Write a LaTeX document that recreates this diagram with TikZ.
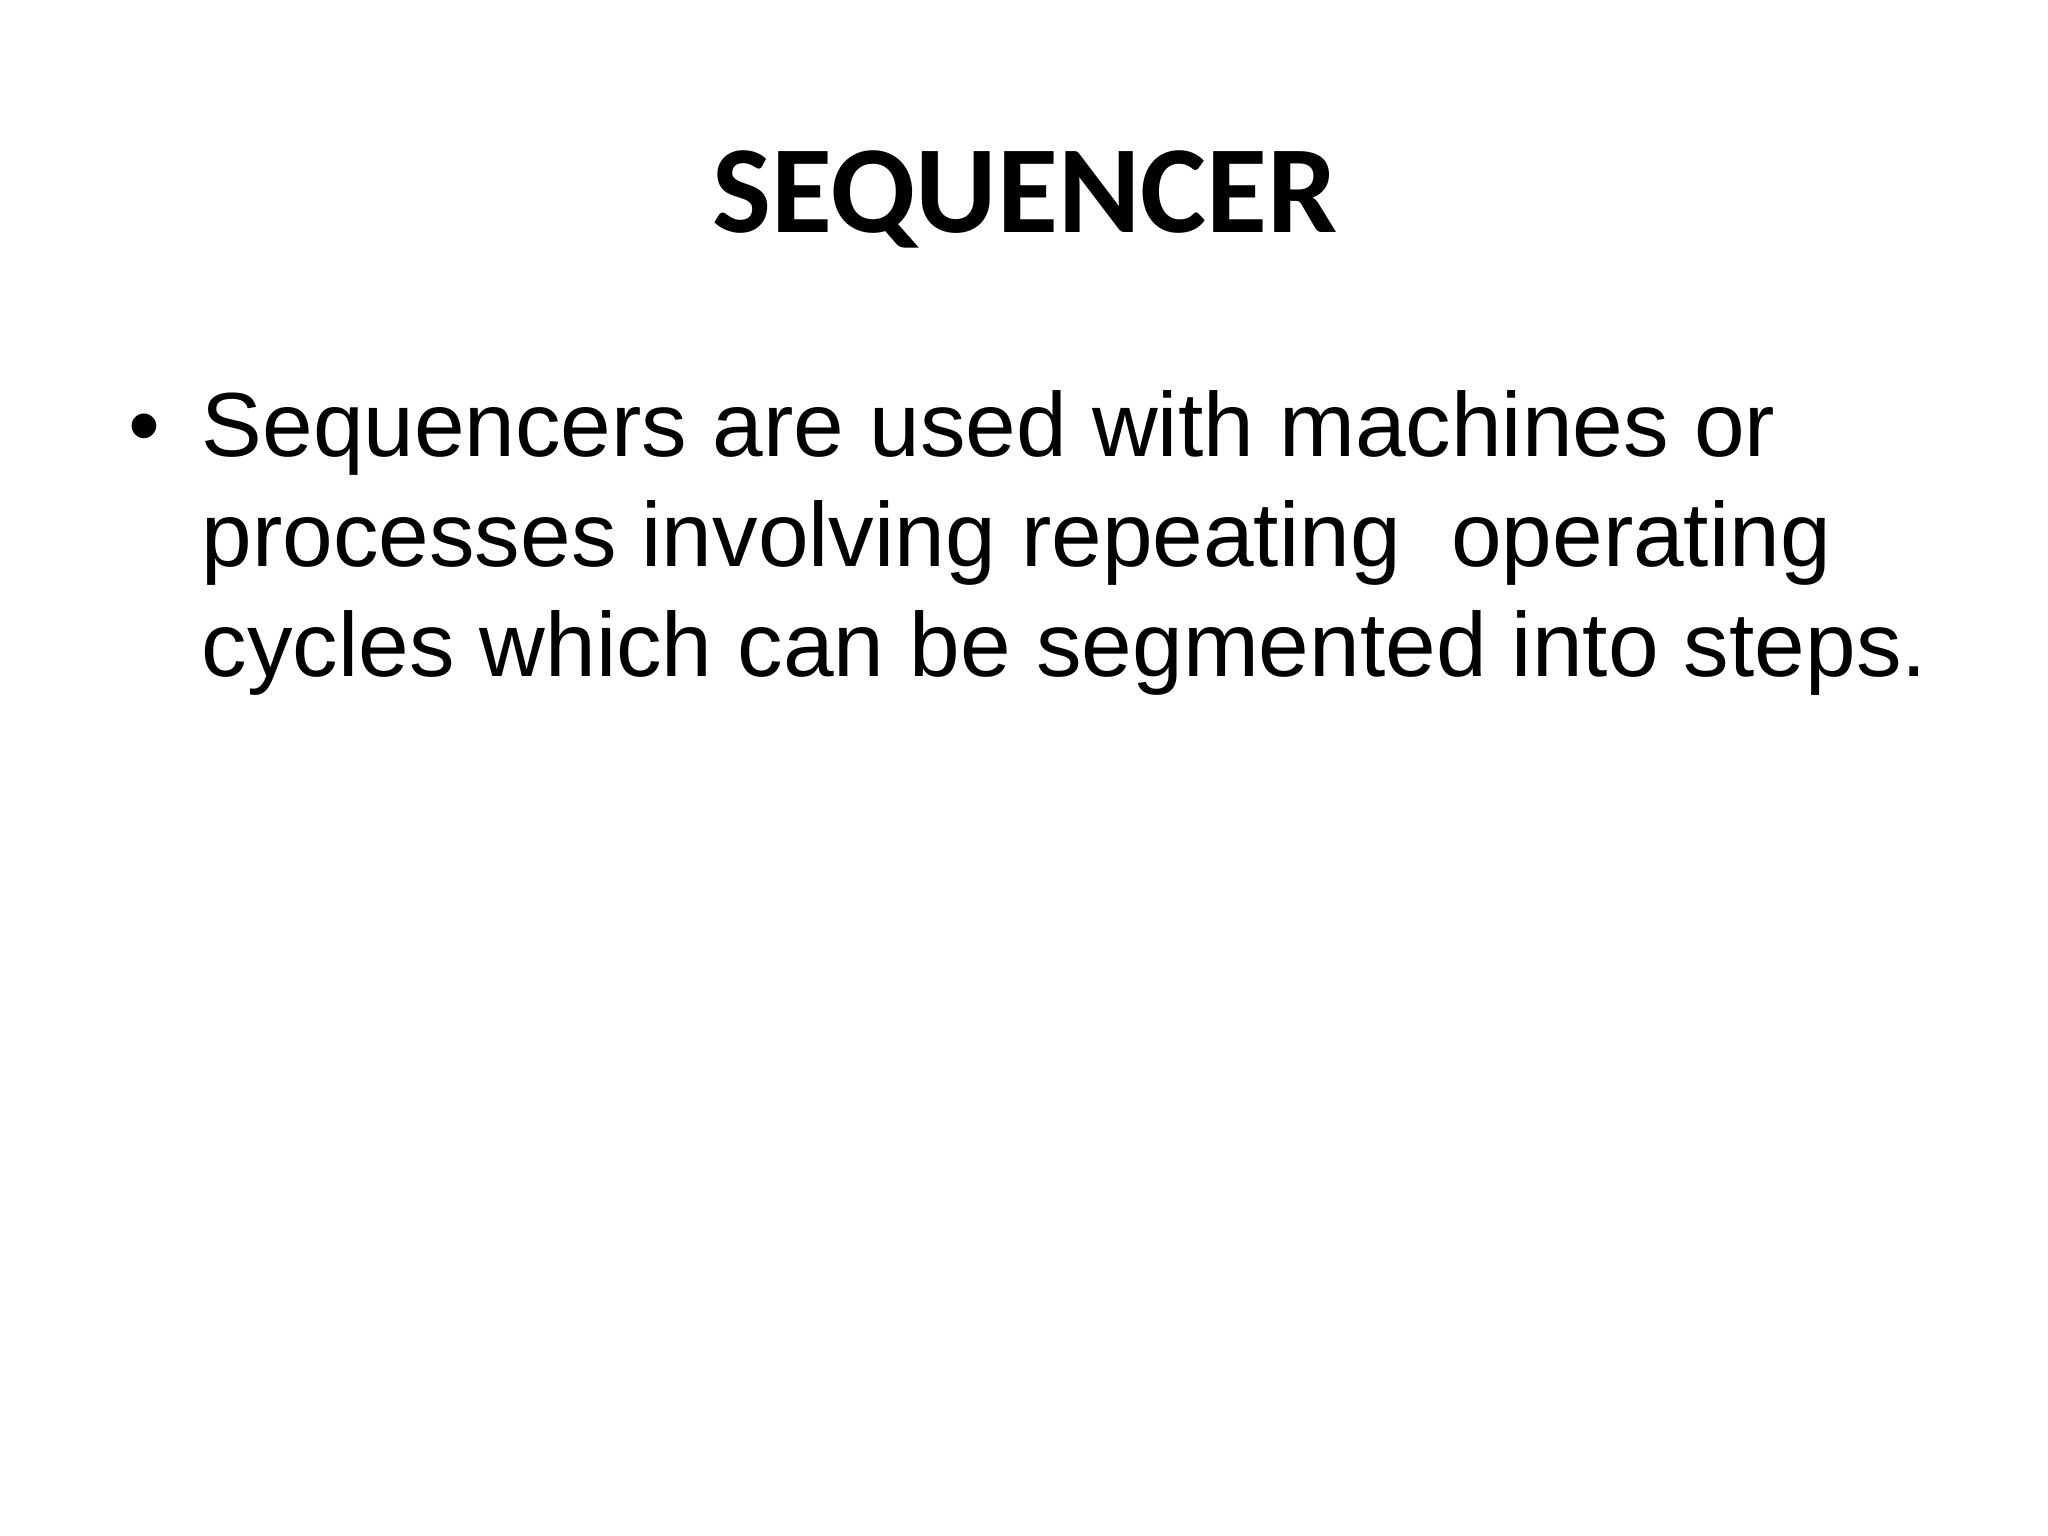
\documentclass[tikz,border=0pt]{standalone}
\usepackage{fontspec}
\setmainfont{Liberation Sans}
\newfontfamily\titlefont{Carlito}
\begin{document}
\begin{tikzpicture}[x=1cm,y=1cm,
  bodytext/.style={anchor=base west,inner sep=0pt,font=\fontsize{25.9}{31.5}\selectfont}]
\useasboundingbox[fill=white] (0,0) rectangle (20.48,15.36);
\node[anchor=base,inner sep=0pt,font=\titlefont\bfseries\fontsize{35.5}{42}\selectfont] (title) at (10.25,13.03) {SEQUENCER};
\node[bodytext] (bullet) at (1.28,10.79) {•};
\node[bodytext] (l1) at (2.01,10.79) {Sequencers are used with machines or};
\node[bodytext] (l2) at (2.01,9.69) {processes involving repeating\ \ operating};
\node[bodytext] (l3) at (2.01,8.59) {cycles which can be segmented into steps.};
\end{tikzpicture}
\end{document}
